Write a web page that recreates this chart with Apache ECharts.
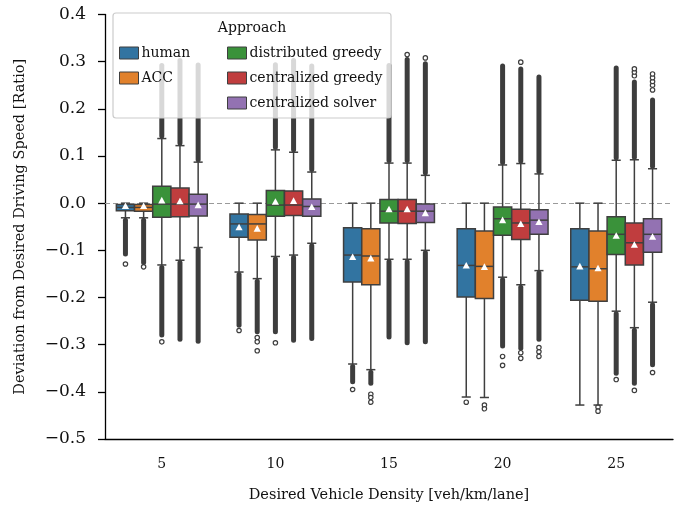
<!DOCTYPE html>
<html>
<head>
<meta charset="utf-8">
<script src="https://cdn.jsdelivr.net/npm/echarts@6/dist/echarts.min.js"></script>
<style>
html,body{margin:0;padding:0;background:#fff;}
#chart{width:681px;height:508px;}
</style>
</head>
<body>
<div id="chart"></div>
<script>
// ---------- data ----------
const categories = ['5', '10', '15', '20', '25'];
const approaches = ['human', 'ACC', 'distributed greedy', 'centralized greedy', 'centralized solver'];
const colors = ['#3274A1', '#E1812C', '#3A923A', '#C03D3E', '#9372B2'];
const yTicks = [-0.5, -0.4, -0.3, -0.2, -0.1, 0.0, 0.1, 0.2, 0.3, 0.4];

// box statistics per category: [lower whisker, Q1, median, Q3, upper whisker]
const humanStats = [
  [-0.031, -0.016, -0.009, -0.003, 0.000],
  [-0.146, -0.072, -0.044, -0.023, 0.000],
  [-0.341, -0.167, -0.110, -0.052, 0.000],
  [-0.411, -0.199, -0.132, -0.054, 0.000],
  [-0.428, -0.206, -0.135, -0.054, 0.000]
];
const accStats = [
  [-0.031, -0.017, -0.009, -0.003, 0.000],
  [-0.160, -0.078, -0.044, -0.024, 0.000],
  [-0.353, -0.173, -0.112, -0.054, 0.000],
  [-0.412, -0.202, -0.134, -0.059, 0.000],
  [-0.428, -0.208, -0.139, -0.059, 0.000]
];
const distGreedyStats = [
  [-0.131, -0.030, -0.002, 0.036, 0.137],
  [-0.113, -0.028, -0.004, 0.027, 0.113],
  [-0.119, -0.042, -0.017, 0.008, 0.085],
  [-0.157, -0.068, -0.033, -0.008, 0.081],
  [-0.229, -0.109, -0.066, -0.029, 0.091]
];
const centGreedyStats = [
  [-0.121, -0.029, -0.002, 0.032, 0.122],
  [-0.110, -0.026, -0.004, 0.026, 0.108],
  [-0.119, -0.043, -0.017, 0.008, 0.085],
  [-0.173, -0.077, -0.042, -0.013, 0.084],
  [-0.264, -0.131, -0.084, -0.042, 0.092]
];
const centSolverStats = [
  [-0.094, -0.027, -0.002, 0.019, 0.087],
  [-0.085, -0.028, -0.007, 0.009, 0.066],
  [-0.100, -0.041, -0.017, -0.002, 0.059],
  [-0.143, -0.066, -0.036, -0.014, 0.062],
  [-0.210, -0.104, -0.066, -0.033, 0.073]
];

// means per category
const humanMeans = [-0.007, -0.052, -0.115, -0.133, -0.135];
const accMeans = [-0.007, -0.055, -0.118, -0.136, -0.139];
const distGreedyMeans = [0.005, 0.002, -0.014, -0.037, -0.070];
const centGreedyMeans = [0.003, 0.004, -0.014, -0.045, -0.089];
const centSolverMeans = [-0.005, -0.009, -0.022, -0.041, -0.072];

// extent of the dense run of outliers beyond each whisker (null = none)
const humanLowOutlierEnd = [-0.113, -0.264, -0.384, null, null];
const accLowOutlierEnd = [-0.131, -0.278, -0.387, null, null];
const distGreedyLowOutlierEnd = [-0.285, -0.278, -0.289, -0.308, -0.366];
const centGreedyLowOutlierEnd = [-0.294, -0.296, -0.301, -0.313, -0.387];
const centSolverLowOutlierEnd = [-0.298, -0.292, -0.299, -0.294, -0.348];

const humanHighOutlierEnd = [null, null, null, null, null];
const accHighOutlierEnd = [null, null, null, null, null];
const distGreedyHighOutlierEnd = [0.297, 0.299, 0.297, 0.296, 0.292];
const centGreedyHighOutlierEnd = [0.308, 0.308, 0.310, 0.290, 0.262];
const centSolverHighOutlierEnd = [0.298, 0.296, 0.301, 0.273, 0.224];

// isolated outliers per category
const humanSparseOutliers = [[-0.129], [-0.270], [-0.395], [-0.422], []];
const accSparseOutliers = [[-0.135], [-0.285, -0.294, -0.313], [-0.405, -0.412, -0.422], [-0.428, -0.436], [-0.432, -0.441]];
const distGreedySparseOutliers = [[-0.294], [-0.296], [], [-0.325, -0.344], [-0.374]];
const centGreedySparseOutliers = [[], [], [0.315], [-0.317, -0.329, 0.299], [-0.397, 0.270, 0.278, 0.285]];
const centSolverSparseOutliers = [[], [], [0.308], [-0.306, -0.315, -0.325], [-0.359, 0.240, 0.250, 0.258, 0.266, 0.274]];

const allStats = [humanStats, accStats, distGreedyStats, centGreedyStats, centSolverStats];
const allMeans = [humanMeans, accMeans, distGreedyMeans, centGreedyMeans, centSolverMeans];
const allLowEnd = [humanLowOutlierEnd, accLowOutlierEnd, distGreedyLowOutlierEnd, centGreedyLowOutlierEnd, centSolverLowOutlierEnd];
const allHighEnd = [humanHighOutlierEnd, accHighOutlierEnd, distGreedyHighOutlierEnd, centGreedyHighOutlierEnd, centSolverHighOutlierEnd];
const allSparse = [humanSparseOutliers, accSparseOutliers, distGreedySparseOutliers, centGreedySparseOutliers, centSolverSparseOutliers];

// ---------- chart ----------
const FONT = '"DejaVu Serif", serif';
const EDGE = '#3f3f3f';
const FLIER = '#3d3d3d';

function makeRender(s) {
  return function (params, api) {
    const cat = api.value(0);
    const bw = api.size([1, 0])[0];
    const slot = bw * 0.8 / approaches.length;
    const cx = api.coord([cat, 0])[0] + (s - (approaches.length - 1) / 2) * slot;
    const half = slot / 2;
    const capHalf = slot / 4;
    const Y = v => api.coord([cat, v])[1];
    const lo = api.value(1), q1 = api.value(2), med = api.value(3), q3 = api.value(4), hi = api.value(5), mean = api.value(6);
    const children = [];
    const lowEnd = allLowEnd[s][cat];
    const highEnd = allHighEnd[s][cat];
    if (lowEnd != null) {
      const y0 = Y(lo), y1 = Y(lowEnd);
      children.push({ type: 'rect', shape: { x: cx - 2.5, y: y0, width: 5, height: y1 - y0, r: 2.5 }, style: { fill: FLIER } });
    }
    if (highEnd != null) {
      const y0 = Y(highEnd), y1 = Y(hi);
      children.push({ type: 'rect', shape: { x: cx - 2.5, y: y0, width: 5, height: y1 - y0, r: 2.5 }, style: { fill: FLIER } });
    }
    allSparse[s][cat].forEach(v => {
      children.push({ type: 'circle', shape: { cx: cx, cy: Y(v), r: 2.2 }, style: { fill: '#fff', stroke: FLIER, lineWidth: 1.2 } });
    });
    // whiskers
    children.push({ type: 'line', shape: { x1: cx, y1: Y(q3), x2: cx, y2: Y(hi) }, style: { stroke: EDGE, lineWidth: 1.5 } });
    children.push({ type: 'line', shape: { x1: cx, y1: Y(q1), x2: cx, y2: Y(lo) }, style: { stroke: EDGE, lineWidth: 1.5 } });
    children.push({ type: 'line', shape: { x1: cx - capHalf, y1: Y(hi), x2: cx + capHalf, y2: Y(hi) }, style: { stroke: EDGE, lineWidth: 1.5 } });
    children.push({ type: 'line', shape: { x1: cx - capHalf, y1: Y(lo), x2: cx + capHalf, y2: Y(lo) }, style: { stroke: EDGE, lineWidth: 1.5 } });
    // box
    const yt = Y(q3), yb = Y(q1);
    children.push({ type: 'rect', shape: { x: cx - half, y: yt, width: slot, height: yb - yt }, style: { fill: colors[s], stroke: EDGE, lineWidth: 1.5 } });
    children.push({ type: 'line', shape: { x1: cx - half, y1: Y(med), x2: cx + half, y2: Y(med) }, style: { stroke: EDGE, lineWidth: 1.5 } });
    // mean marker
    const ym = Y(mean);
    children.push({ type: 'polygon', shape: { points: [[cx, ym - 4], [cx - 3.6, ym + 2.6], [cx + 3.6, ym + 2.6]] }, style: { fill: '#fff' } });
    return { type: 'group', children: children };
  };
}

const series = [{
  name: 'zero-reference',
  type: 'line',
  data: [],
  silent: true,
  z: 1,
  markLine: {
    silent: true,
    symbol: ['none', 'none'],
    label: { show: false },
    z: 1,
    lineStyle: { color: '#9a9a9a', width: 1, type: [5, 3] },
    data: [{ yAxis: 0 }]
  }
}].concat(approaches.map((name, s) => {
  const data = allStats[s].map((st, i) => [i, st[0], st[1], st[2], st[3], st[4], allMeans[s][i]]);
  return {
    name: name,
    type: 'custom',
    coordinateSystem: 'cartesian2d',
    itemStyle: { color: colors[s] },
    encode: { x: 0, y: [1, 2, 3, 4, 5, 6] },
    renderItem: makeRender(s),
    data: data,
    silent: true,
    z: 3
  };
}));

const legendItem = (i) => ({ name: approaches[i], itemStyle: { color: colors[i], borderColor: EDGE, borderWidth: 1 } });
const legendCommon = {
  orient: 'vertical',
  itemWidth: 19,
  itemHeight: 12,
  itemGap: 11,
  icon: 'rect',
  selectedMode: false,
  z: 60,
  textStyle: { fontFamily: FONT, fontSize: 14, color: '#111', padding: [0, 0, 0, -2] },
  padding: 0
};

const option = {
  animation: false,
  backgroundColor: '#fff',
  grid: { left: 105, right: 8, top: 14.5, bottom: 66 },
  xAxis: {
    type: 'category',
    data: categories,
    name: 'Desired Vehicle Density [veh/km/lane]',
    nameLocation: 'middle',
    nameGap: 49,
    nameTextStyle: { fontFamily: FONT, fontSize: 14.5, color: '#111' },
    axisLine: { onZero: false, lineStyle: { color: '#000', width: 1.3 } },
    axisTick: { alignWithLabel: true, length: 7, lineStyle: { color: '#000', width: 1.3 } },
    axisLabel: { fontFamily: FONT, fontSize: 14, color: '#111', margin: 18 },
    splitLine: { show: false }
  },
  yAxis: {
    type: 'value',
    min: yTicks[0],
    max: yTicks[yTicks.length - 1],
    interval: 0.1,
    name: 'Deviation from Desired Driving Speed [Ratio]',
    nameLocation: 'middle',
    nameGap: 77,
    nameTextStyle: { fontFamily: FONT, fontSize: 14.5, color: '#111' },
    axisLine: { show: true, onZero: false, lineStyle: { color: '#000', width: 1.3 } },
    axisTick: { show: true, length: 7, lineStyle: { color: '#000', width: 1.3 } },
    axisLabel: {
      fontFamily: FONT, fontSize: 17, color: '#111', margin: 19,
      formatter: v => { const t = Math.abs(v).toFixed(1); return (v < -1e-9 ? '\u2212' : '') + t; }
    },
    splitLine: { show: false }
  },
  legend: [
    Object.assign({}, legendCommon, { left: 119, top: 46, data: [legendItem(0), legendItem(1)] }),
    Object.assign({}, legendCommon, { left: 227, top: 46, data: [legendItem(2), legendItem(3), legendItem(4)] })
  ],
  graphic: [
    { type: 'rect', z: 50, silent: true, shape: { x: 113, y: 13, width: 278, height: 105, r: 3 }, style: { fill: 'rgba(255,255,255,0.8)', stroke: '#cccccc', lineWidth: 1.2 } },
    { type: 'text', z: 60, silent: true, x: 252, y: 28, style: { text: 'Approach', font: '14px ' + FONT, fill: '#111', textAlign: 'center', textVerticalAlign: 'middle' } }
  ],
  series: series
};

const chart = echarts.init(document.getElementById('chart'), null, { renderer: 'canvas' });
chart.setOption(option);
</script>
</body>
</html>
